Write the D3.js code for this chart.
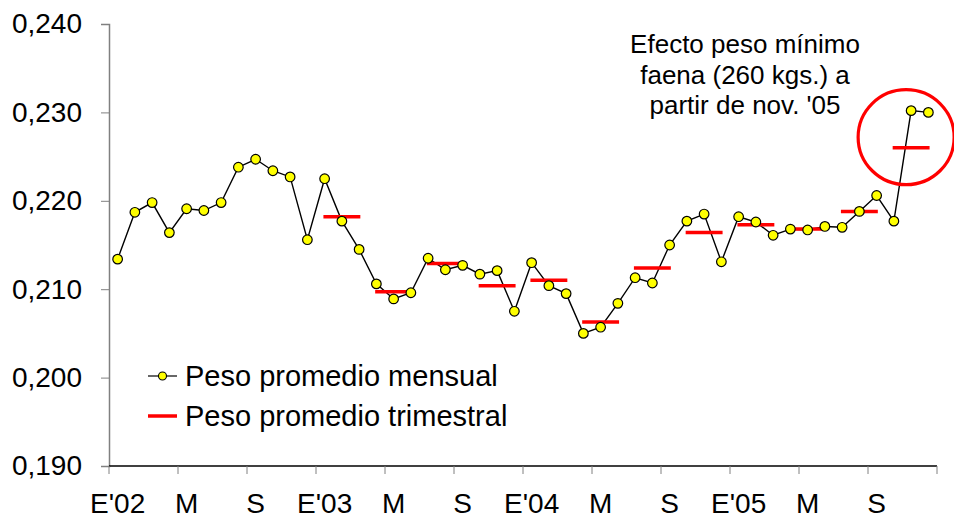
<!DOCTYPE html>
<html>
<head>
<meta charset="utf-8">
<script src="https://cdn.jsdelivr.net/npm/d3@7"></script>
<style>
  body { margin: 0; background: #fff; }
  svg { font-family: Arial, "Liberation Sans", sans-serif; }
</style>
</head>
<body>
<div id="chart"></div>
<script>
var default_width = 954;
var default_height = 521;

// monthly average weight, Jan 2002 .. Dec 2005
var months = d3.range(48);
var monthlyValues = [
    0.2134, 0.2187, 0.2198, 0.2164, 0.2191, 0.2189, 0.2198, 0.2238, 0.2247, 0.2234, 0.2227, 0.2156,
    0.2225, 0.2177, 0.2145, 0.2106, 0.2089, 0.2096, 0.2135, 0.2122, 0.2127, 0.2117, 0.2121, 0.2075,
    0.2130, 0.2104, 0.2095, 0.2050, 0.2057, 0.2084, 0.2113, 0.2107, 0.2150, 0.2177, 0.2185, 0.2131,
    0.2182, 0.2176, 0.2161, 0.2168, 0.2167, 0.2171, 0.2170, 0.2188, 0.2206, 0.2177, 0.2302, 0.2300
];

// quarterly average, Q1 2003 .. Q4 2005 (drawn at the middle month of each quarter)
var quarterMonths = [13, 16, 19, 22, 25, 28, 31, 34, 37, 40, 43, 46];
var quarterValues = [0.2182, 0.2097, 0.2129, 0.2104, 0.2110, 0.2063, 0.2124, 0.2164, 0.2173, 0.2168, 0.2188, 0.2260];

var xTickLabels = ["E'02", "M", "S", "E'03", "M", "S", "E'04", "M", "S", "E'05", "M", "S"];
var yTicks = [0.19, 0.20, 0.21, 0.22, 0.23, 0.24];

var seriesNames = ["Peso promedio mensual", "Peso promedio trimestral"];
var noteLines = ["Efecto peso mínimo", "faena (260 kgs.) a", "partir de nov. '05"];

////////////////////////////////////////////////////////////////////////////////

function drawChart() {
    var svg = d3.select("#chart").append("svg")
        .attr("width", default_width)
        .attr("height", default_height);

    var x = d3.scaleBand()
        .domain(months)
        .range([109, 937]);

    var y = d3.scaleLinear()
        .domain([0.19, 0.24])
        .range([466, 24]);

    var fmt = function(v) { return d3.format(".3f")(v).replace(".", ","); };
    var cx = function(m) { return x(m) + x.bandwidth() / 2; };

    // y axis
    var yAxis = svg.append("g")
        .attr("transform", "translate(109,0)")
        .call(d3.axisLeft(y).tickValues(yTicks).tickFormat(fmt).tickSizeOuter(0).tickSize(8).tickPadding(19));
    yAxis.select(".domain").attr("stroke", "#808080").attr("stroke-width", 1.5);
    yAxis.selectAll(".tick line").attr("stroke", "#808080");
    yAxis.selectAll("text")
        .attr("font-size", 28)
        .attr("fill", "#000");

    // x axis: ticks every 4 months, labels centred on the month
    var xAxisG = svg.append("g")
        .attr("transform", "translate(0,466)");
    xAxisG.append("line")
        .attr("x1", x.range()[0]).attr("x2", x.range()[1])
        .attr("stroke", "#000").attr("stroke-width", 1.5);
    xAxisG.selectAll("line.tick")
        .data(d3.range(0, 49, 4))
        .enter().append("line")
            .attr("class", "tick")
            .attr("x1", function(m) { return x.range()[0] + m * x.step(); })
            .attr("x2", function(m) { return x.range()[0] + m * x.step(); })
            .attr("y1", 0).attr("y2", 8)
            .attr("stroke", "#808080");
    xAxisG.selectAll("text")
        .data(xTickLabels)
        .enter().append("text")
            .attr("x", function(d, i) { return cx(i * 4); })
            .attr("y", 47)
            .attr("text-anchor", "middle")
            .attr("font-size", 28)
            .text(function(d) { return d; });

    // monthly line
    var line = d3.line()
        .x(function(d, i) { return cx(i); })
        .y(function(d) { return y(d); });

    svg.append("path")
        .datum(monthlyValues)
        .attr("d", line)
        .attr("fill", "none")
        .attr("stroke", "#000")
        .attr("stroke-width", 1.4);

    // quarterly dashes
    var half = x.bandwidth() * 1.07;
    svg.selectAll("line.quarter")
        .data(quarterValues)
        .enter().append("line")
            .attr("class", "quarter")
            .attr("x1", function(d, i) { return cx(quarterMonths[i]) - half; })
            .attr("x2", function(d, i) { return cx(quarterMonths[i]) + half; })
            .attr("y1", function(d) { return y(d); })
            .attr("y2", function(d) { return y(d); })
            .attr("stroke", "#ff0000")
            .attr("stroke-width", 3.5);

    // monthly markers
    svg.selectAll("circle.month")
        .data(monthlyValues)
        .enter().append("circle")
            .attr("class", "month")
            .attr("cx", function(d, i) { return cx(i); })
            .attr("cy", function(d) { return y(d); })
            .attr("r", 4.8)
            .attr("fill", "#ffff00")
            .attr("stroke", "#000")
            .attr("stroke-width", 1.2);

    // highlight circle around last quarter
    svg.append("ellipse")
        .attr("cx", cx(46) - 5)
        .attr("cy", y(0.2272))
        .attr("rx", 48)
        .attr("ry", 47.5)
        .attr("fill", "none")
        .attr("stroke", "#ff0000")
        .attr("stroke-width", 3.2);

    // annotation
    svg.append("g")
        .attr("font-size", 26)
        .attr("text-anchor", "middle")
        .selectAll("text")
        .data(noteLines)
        .enter().append("text")
            .attr("x", 745)
            .attr("y", function(d, i) { return 53 + i * 30.5; })
            .text(function(d) { return d; });

    // legend
    var legend = svg.append("g")
        .attr("font-size", 29)
        .selectAll("g")
        .data(seriesNames)
        .enter().append("g")
            .attr("transform", function(d, i) { return "translate(148," + (376 + i * 40) + ")"; });

    legend.append("line")
        .attr("x1", 0).attr("x2", 29)
        .attr("stroke", function(d, i) { return i === 0 ? "#000" : "#ff0000"; })
        .attr("stroke-width", function(d, i) { return i === 0 ? 1.2 : 3.5; });

    legend.filter(function(d, i) { return i === 0; })
        .append("circle")
        .attr("cx", 14.5)
        .attr("r", 4)
        .attr("fill", "#ffff00")
        .attr("stroke", "#000")
        .attr("stroke-width", 1.1);

    legend.append("text")
        .attr("x", 37)
        .attr("y", 0)
        .attr("dy", "0.33em")
        .text(function(d) { return d; });
}

drawChart();
</script>
</body>
</html>
